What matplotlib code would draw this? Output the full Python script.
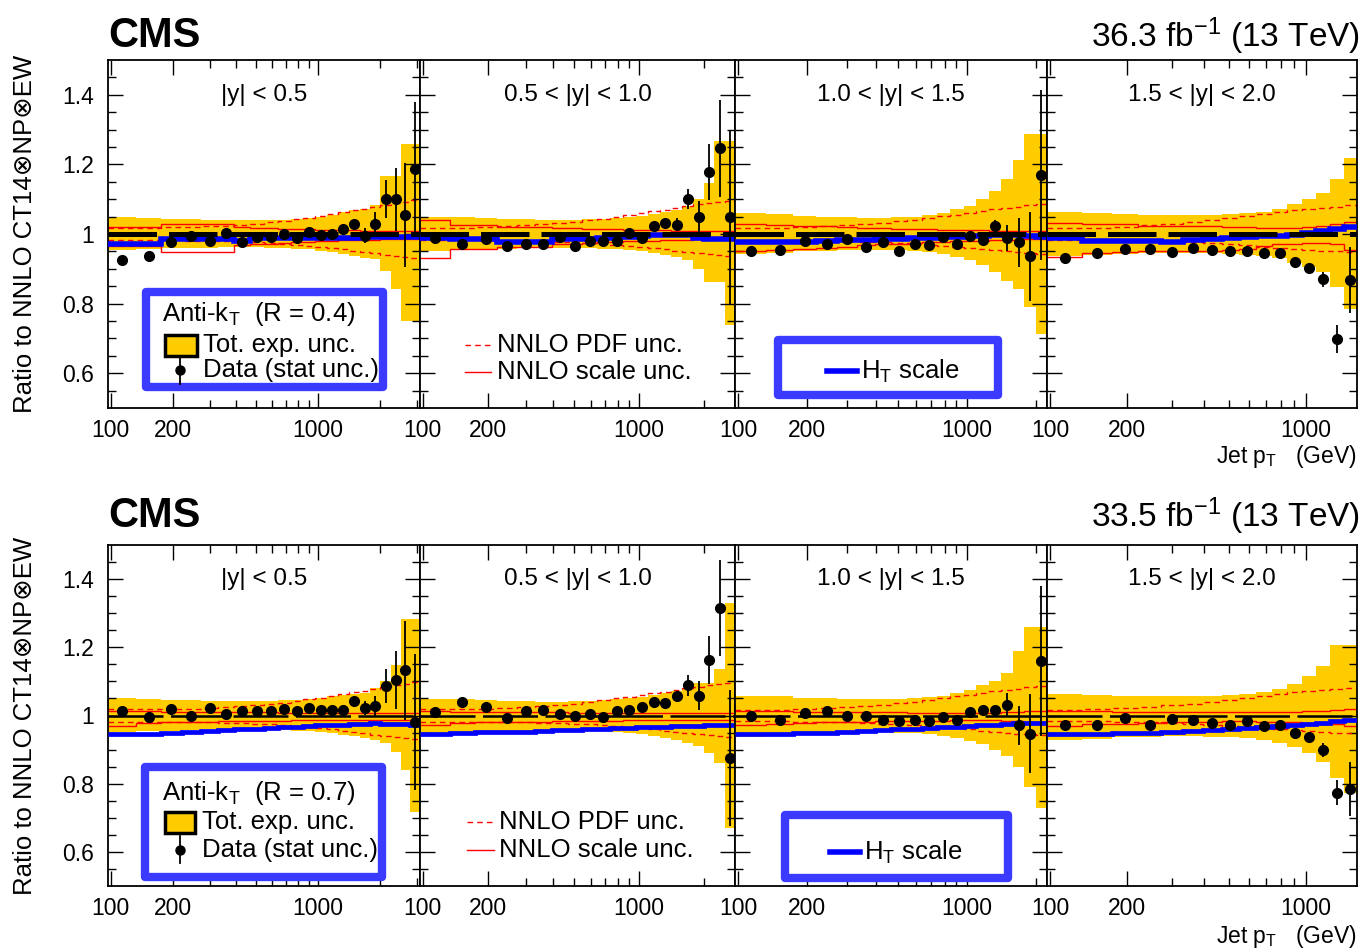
import numpy as np
import matplotlib
matplotlib.use('Agg')
import matplotlib.pyplot as plt
from matplotlib.patches import Rectangle
from matplotlib.lines import Line2D
from matplotlib.ticker import FixedLocator, FixedFormatter, NullFormatter

plt.rcParams['font.family'] = ['Liberation Sans', 'DejaVu Sans']
plt.rcParams['mathtext.fontset'] = 'custom'
plt.rcParams['mathtext.rm'] = 'Liberation Sans'
plt.rcParams['mathtext.it'] = 'Liberation Sans:italic'
plt.rcParams['mathtext.bf'] = 'Liberation Sans:bold'

# ---- binning (GeV) ----
edges = [97, 133, 174, 220, 272, 330, 395, 468, 548, 638, 737, 846, 967, 1101,
         1248, 1410, 1588, 1784, 2000, 2238, 2500, 2787, 3103]
nbins = [22, 21, 19, 16]
ylabels = ['|y| < 0.5', '0.5 < |y| < 1.0', '1.0 < |y| < 1.5', '1.5 < |y| < 2.0']

# ---- R = 0.4 (top row) ----
top_data = [
    [0.924, 0.936, 0.978, 0.995, 0.979, 1.002, 0.978, 0.990, 0.990, 1.000, 0.989,
     1.007, 0.997, 1.000, 1.014, 1.029, 0.995, 1.029, 1.100, 1.100, 1.054, 1.188],
    [0.989, 0.970, 0.986, 0.965, 0.971, 0.970, 0.990, 0.965, 0.981, 0.981, 0.981,
     1.003, 0.989, 1.024, 1.031, 1.027, 1.100, 1.048, 1.179, 1.246, 1.048],
    [0.950, 0.954, 0.981, 0.971, 0.986, 0.964, 0.976, 0.950, 0.971, 0.969, 0.990,
     0.970, 0.995, 0.984, 1.022, 0.989, 0.976, 0.936, 1.170],
    [0.931, 0.945, 0.957, 0.957, 0.948, 0.960, 0.955, 0.952, 0.952, 0.945, 0.945,
     0.919, 0.902, 0.870, 0.698, 0.867]]
top_stat = [
    [0.002, 0.002, 0.002, 0.002, 0.002, 0.002, 0.002, 0.002, 0.002, 0.002, 0.003,
     0.004, 0.005, 0.006, 0.008, 0.012, 0.022, 0.033, 0.055, 0.090, 0.150, 0.190],
    [0.002, 0.002, 0.002, 0.002, 0.002, 0.002, 0.002, 0.002, 0.002, 0.002, 0.003,
     0.004, 0.006, 0.008, 0.014, 0.018, 0.028, 0.048, 0.080, 0.140, 0.250],
    [0.002, 0.002, 0.002, 0.002, 0.002, 0.002, 0.002, 0.002, 0.002, 0.003, 0.004,
     0.006, 0.008, 0.012, 0.018, 0.038, 0.070, 0.128, 0.245],
    [0.002, 0.002, 0.002, 0.002, 0.002, 0.002, 0.002, 0.002, 0.003, 0.004, 0.005,
     0.007, 0.010, 0.021, 0.040, 0.095]]
top_exp_up = [
    [0.048, 0.046, 0.043, 0.042, 0.041, 0.040, 0.040, 0.039, 0.040, 0.041, 0.043,
     0.046, 0.050, 0.055, 0.062, 0.070, 0.072, 0.082, 0.167, 0.167, 0.260, 0.260],
    [0.050, 0.048, 0.045, 0.043, 0.042, 0.041, 0.041, 0.041, 0.042, 0.043, 0.045,
     0.048, 0.052, 0.057, 0.063, 0.070, 0.081, 0.100, 0.146, 0.267, 0.267],
    [0.059, 0.057, 0.052, 0.050, 0.048, 0.047, 0.047, 0.048, 0.050, 0.054, 0.060,
     0.071, 0.081, 0.100, 0.124, 0.157, 0.214, 0.286, 0.286],
    [0.063, 0.060, 0.058, 0.056, 0.056, 0.056, 0.056, 0.058, 0.060, 0.064, 0.071,
     0.086, 0.100, 0.119, 0.157, 0.219]]
top_exp_dn = [
    [0.046, 0.044, 0.041, 0.040, 0.039, 0.038, 0.038, 0.038, 0.039, 0.040, 0.042,
     0.044, 0.048, 0.052, 0.058, 0.064, 0.068, 0.072, 0.105, 0.157, 0.250, 0.250],
    [0.048, 0.046, 0.044, 0.042, 0.041, 0.040, 0.040, 0.040, 0.041, 0.042, 0.044,
     0.047, 0.050, 0.055, 0.060, 0.066, 0.075, 0.100, 0.138, 0.138, 0.262],
    [0.057, 0.055, 0.050, 0.048, 0.046, 0.045, 0.045, 0.046, 0.048, 0.052, 0.057,
     0.065, 0.075, 0.090, 0.110, 0.135, 0.157, 0.210, 0.286],
    [0.064, 0.061, 0.058, 0.056, 0.056, 0.056, 0.056, 0.057, 0.059, 0.063, 0.069,
     0.082, 0.095, 0.110, 0.152, 0.216]]
top_scale_up = [
    [0.020, 0.020, 0.030, 0.030, 0.030, 0.030, 0.020, 0.018, 0.016, 0.015, 0.014,
     0.013, 0.012, 0.012, 0.011, 0.011, 0.010, 0.010, 0.010, 0.010, 0.010, 0.010],
    [0.040, 0.027, 0.027, 0.020, 0.020, 0.020, 0.018, 0.016, 0.015, 0.014, 0.013,
     0.012, 0.012, 0.011, 0.011, 0.010, 0.010, 0.010, 0.010, 0.010, 0.010],
    [0.028, 0.026, 0.024, 0.022, 0.020, 0.018, 0.016, 0.015, 0.014, 0.013, 0.012,
     0.012, 0.011, 0.011, 0.010, 0.010, 0.010, 0.010, 0.010],
    [0.033, 0.030, 0.028, 0.024, 0.024, 0.022, 0.022, 0.020, 0.019, 0.018, 0.018,
     0.018, 0.020, 0.024, 0.030, 0.034]]
top_scale_dn = [
    [0.035, 0.035, 0.052, 0.052, 0.052, 0.052, 0.032, 0.030, 0.028, 0.026, 0.024,
     0.022, 0.020, 0.019, 0.018, 0.017, 0.016, 0.016, 0.015, 0.015, 0.014, 0.014],
    [0.070, 0.043, 0.042, 0.036, 0.036, 0.036, 0.030, 0.028, 0.026, 0.024, 0.022,
     0.021, 0.020, 0.019, 0.018, 0.017, 0.016, 0.015, 0.015, 0.014, 0.014],
    [0.048, 0.046, 0.044, 0.040, 0.036, 0.032, 0.030, 0.028, 0.026, 0.024, 0.022,
     0.021, 0.020, 0.019, 0.018, 0.017, 0.016, 0.015, 0.015],
    [0.067, 0.055, 0.052, 0.050, 0.050, 0.048, 0.048, 0.045, 0.042, 0.035, 0.030,
     0.028, 0.027, 0.026, 0.030, 0.045]]
top_ht = [
    [0.972, 0.972, 0.987, 0.987, 0.987, 0.987, 0.980, 0.988, 0.988, 0.988, 0.988,
     0.988, 0.989, 0.989, 0.989, 0.989, 0.990, 0.990, 0.990, 0.990, 0.990, 0.990],
    [0.988, 0.985, 0.985, 0.978, 0.978, 0.978, 0.985, 0.985, 0.986, 0.988, 0.990,
     0.992, 0.995, 0.996, 0.997, 0.997, 0.997, 0.988, 0.985, 0.985, 0.985],
    [0.976, 0.976, 0.978, 0.980, 0.982, 0.984, 0.986, 0.987, 0.988, 0.989, 0.990,
     0.992, 0.993, 0.994, 0.996, 0.997, 0.996, 0.994, 0.992],
    [0.988, 0.981, 0.980, 0.979, 0.977, 0.984, 0.986, 0.989, 0.991, 0.993, 0.995,
     0.998, 1.002, 1.008, 1.013, 1.019]]

# ---- R = 0.7 (bottom row) ----
bot_data = [
    [1.012, 0.997, 1.019, 1.000, 1.022, 1.005, 1.012, 1.012, 1.012, 1.019, 1.014,
     1.021, 1.017, 1.017, 1.017, 1.043, 1.022, 1.028, 1.087, 1.103, 1.132, 0.981],
    [1.010, 1.041, 1.024, 0.993, 1.012, 1.017, 1.005, 0.998, 1.005, 0.997, 1.012,
     1.017, 1.024, 1.040, 1.037, 1.056, 1.088, 1.058, 1.163, 1.315, 0.875],
    [1.000, 0.986, 1.007, 1.014, 1.000, 0.998, 0.986, 0.983, 0.988, 0.984, 0.997,
     0.988, 1.010, 1.016, 1.017, 1.031, 0.971, 0.947, 1.159],
    [0.971, 0.973, 0.992, 0.973, 0.990, 0.986, 0.979, 0.973, 0.983, 0.968, 0.973,
     0.949, 0.938, 0.899, 0.774, 0.784]]
bot_stat = [
    [0.002, 0.002, 0.002, 0.002, 0.002, 0.002, 0.002, 0.002, 0.002, 0.002, 0.003,
     0.003, 0.004, 0.005, 0.007, 0.010, 0.020, 0.030, 0.050, 0.085, 0.145, 0.200],
    [0.002, 0.002, 0.002, 0.002, 0.002, 0.002, 0.002, 0.002, 0.002, 0.003, 0.003,
     0.004, 0.005, 0.007, 0.010, 0.015, 0.030, 0.043, 0.070, 0.140, 0.200],
    [0.002, 0.002, 0.002, 0.002, 0.002, 0.002, 0.002, 0.002, 0.003, 0.003, 0.004,
     0.005, 0.007, 0.010, 0.015, 0.035, 0.058, 0.117, 0.220],
    [0.002, 0.002, 0.002, 0.002, 0.002, 0.002, 0.002, 0.002, 0.003, 0.003, 0.004,
     0.006, 0.008, 0.020, 0.037, 0.080]]
bot_exp_up = [
    [0.051, 0.049, 0.046, 0.044, 0.043, 0.042, 0.042, 0.042, 0.043, 0.044, 0.046,
     0.049, 0.052, 0.056, 0.060, 0.063, 0.065, 0.082, 0.100, 0.149, 0.284, 0.284],
    [0.048, 0.047, 0.045, 0.043, 0.042, 0.041, 0.041, 0.042, 0.043, 0.045, 0.048,
     0.051, 0.055, 0.060, 0.066, 0.073, 0.082, 0.096, 0.096, 0.135, 0.330],
    [0.058, 0.056, 0.052, 0.050, 0.048, 0.047, 0.047, 0.048, 0.050, 0.053, 0.058,
     0.065, 0.075, 0.088, 0.100, 0.125, 0.190, 0.260, 0.260],
    [0.062, 0.060, 0.058, 0.057, 0.057, 0.057, 0.058, 0.060, 0.063, 0.068, 0.078,
     0.091, 0.115, 0.144, 0.207, 0.207]]
bot_exp_dn = [
    [0.048, 0.046, 0.044, 0.042, 0.041, 0.040, 0.040, 0.040, 0.041, 0.042, 0.044,
     0.046, 0.049, 0.052, 0.056, 0.060, 0.065, 0.072, 0.082, 0.106, 0.159, 0.284],
    [0.053, 0.050, 0.047, 0.045, 0.044, 0.043, 0.043, 0.043, 0.044, 0.046, 0.048,
     0.051, 0.055, 0.060, 0.066, 0.073, 0.080, 0.090, 0.110, 0.140, 0.330],
    [0.062, 0.059, 0.055, 0.052, 0.050, 0.049, 0.049, 0.050, 0.052, 0.055, 0.060,
     0.066, 0.075, 0.085, 0.100, 0.120, 0.150, 0.210, 0.270],
    [0.072, 0.068, 0.064, 0.062, 0.061, 0.061, 0.062, 0.064, 0.067, 0.072, 0.080,
     0.092, 0.110, 0.135, 0.183, 0.226]]
bot_scale_up = [
    [0.012, 0.012, 0.010, 0.010, 0.010, 0.010, 0.009, 0.009, 0.009, 0.008, 0.008,
     0.008, 0.008, 0.008, 0.008, 0.008, 0.008, 0.008, 0.008, 0.008, 0.008, 0.008],
    [0.012, 0.010, 0.010, 0.010, 0.009, 0.009, 0.009, 0.008, 0.008, 0.008, 0.008,
     0.008, 0.008, 0.008, 0.008, 0.008, 0.008, 0.008, 0.008, 0.008, 0.008],
    [0.012, 0.012, 0.011, 0.010, 0.010, 0.009, 0.009, 0.009, 0.008, 0.008, 0.008,
     0.008, 0.008, 0.008, 0.008, 0.009, 0.010, 0.012, 0.014],
    [0.012, 0.012, 0.011, 0.010, 0.010, 0.009, 0.009, 0.009, 0.009, 0.009, 0.010,
     0.011, 0.012, 0.013, 0.015, 0.018]]
bot_scale_dn = [
    [0.030, 0.022, 0.020, 0.018, 0.018, 0.017, 0.016, 0.016, 0.015, 0.015, 0.014,
     0.014, 0.013, 0.013, 0.013, 0.012, 0.012, 0.012, 0.012, 0.012, 0.012, 0.012],
    [0.028, 0.022, 0.020, 0.020, 0.019, 0.018, 0.017, 0.016, 0.016, 0.015, 0.015,
     0.014, 0.014, 0.013, 0.013, 0.013, 0.012, 0.012, 0.012, 0.012, 0.012],
    [0.028, 0.024, 0.022, 0.020, 0.019, 0.018, 0.017, 0.016, 0.016, 0.015, 0.015,
     0.014, 0.014, 0.014, 0.014, 0.015, 0.016, 0.018, 0.020],
    [0.030, 0.026, 0.024, 0.022, 0.020, 0.019, 0.018, 0.017, 0.017, 0.018, 0.019,
     0.020, 0.022, 0.024, 0.026, 0.030]]
bot_ht = [
    [0.946, 0.946, 0.950, 0.952, 0.955, 0.957, 0.959, 0.961, 0.963, 0.965, 0.967,
     0.969, 0.971, 0.972, 0.973, 0.975, 0.976, 0.977, 0.976, 0.975, 0.974, 0.973],
    [0.947, 0.950, 0.951, 0.952, 0.953, 0.955, 0.957, 0.958, 0.959, 0.960, 0.962,
     0.963, 0.965, 0.966, 0.967, 0.968, 0.969, 0.970, 0.971, 0.971, 0.971],
    [0.945, 0.946, 0.948, 0.950, 0.953, 0.955, 0.957, 0.959, 0.961, 0.963, 0.965,
     0.967, 0.969, 0.971, 0.973, 0.975, 0.977, 0.978, 0.977],
    [0.946, 0.946, 0.948, 0.950, 0.953, 0.955, 0.957, 0.959, 0.962, 0.965, 0.968,
     0.971, 0.975, 0.979, 0.984, 0.988]]

# ---- NNLO PDF uncertainty (same for both rows) ----
pdf_up = [
    [0.018, 0.018, 0.019, 0.020, 0.022, 0.024, 0.027, 0.030, 0.034, 0.038, 0.042,
     0.047, 0.052, 0.057, 0.062, 0.068, 0.073, 0.078, 0.083, 0.088, 0.093, 0.098],
    [0.018, 0.018, 0.020, 0.022, 0.025, 0.028, 0.031, 0.035, 0.039, 0.044, 0.050,
     0.055, 0.060, 0.065, 0.070, 0.075, 0.080, 0.085, 0.089, 0.092, 0.095],
    [0.016, 0.017, 0.019, 0.022, 0.025, 0.028, 0.032, 0.036, 0.041, 0.046, 0.051,
     0.056, 0.061, 0.066, 0.071, 0.075, 0.079, 0.083, 0.086],
    [0.016, 0.018, 0.021, 0.025, 0.030, 0.035, 0.040, 0.046, 0.052, 0.058, 0.063,
     0.068, 0.072, 0.076, 0.079, 0.082]]
pdf_dn = [
    [0.018, 0.018, 0.018, 0.019, 0.020, 0.021, 0.022, 0.024, 0.026, 0.028, 0.031,
     0.034, 0.037, 0.040, 0.044, 0.048, 0.052, 0.056, 0.059, 0.062, 0.065, 0.068],
    [0.018, 0.018, 0.018, 0.019, 0.020, 0.021, 0.022, 0.024, 0.026, 0.028, 0.031,
     0.034, 0.037, 0.040, 0.044, 0.048, 0.052, 0.055, 0.058, 0.060, 0.062],
    [0.016, 0.017, 0.018, 0.019, 0.020, 0.022, 0.024, 0.026, 0.029, 0.032, 0.035,
     0.038, 0.041, 0.044, 0.047, 0.050, 0.053, 0.055, 0.057],
    [0.016, 0.017, 0.018, 0.020, 0.022, 0.024, 0.027, 0.030, 0.033, 0.037, 0.040,
     0.043, 0.046, 0.048, 0.050, 0.052]]

YELLOW = '#ffcc00'
BOXBLUE = '#3b3bff'
W, H = 1367, 952
panel_x = [108, 420, 735, 1047, 1357]
LEGFS = 18.5

fig = plt.figure(figsize=(W / 100, H / 100), dpi=100)


def draw_panel(ax, i, data, stat, eup, edn, sup, sdn, ht, top):
    n = nbins[i]
    e = np.array(edges[:n + 1], dtype=float)
    c = np.sqrt(e[:-1] * e[1:])
    d = np.array(data)
    ax.stairs(1 + np.array(eup), e, baseline=1 - np.array(edn), fill=True,
              color=YELLOW, lw=0, zorder=1)
    ax.stairs(1 + np.array(pdf_up[i]), e, baseline=None, color='red', lw=1.0,
              ls=(0, (4, 3)), zorder=2)
    ax.stairs(1 - np.array(pdf_dn[i]), e, baseline=None, color='red', lw=1.0,
              ls=(0, (4, 3)), zorder=2)
    ax.stairs(1 + np.array(sup), e, baseline=None, color='red', lw=1.0, zorder=2)
    ax.stairs(1 - np.array(sdn), e, baseline=None, color='red', lw=1.0, zorder=2)
    ax.stairs(np.array(ht), e, baseline=None, color='blue',
              lw=4.0 if top else 3.4, zorder=3)
    if top:
        ax.axhline(1.0, color='k', lw=3.6, ls=(0, (9.7, 2.4)), zorder=3.5)
    else:
        ax.axhline(1.0, color='k', lw=1.8, ls=(0, (22, 3)), zorder=3.5)
    ax.errorbar(c, d, yerr=stat, fmt='o', color='k', ms=7, elinewidth=1.3,
                capsize=0, zorder=5)

    ax.set_xscale('log')
    ax.set_xlim(97, e[-1])
    ax.set_ylim(0.5, 1.5)
    ax.xaxis.set_major_locator(FixedLocator([100, 200, 1000]))
    ax.xaxis.set_major_formatter(FixedFormatter(['100', '200', '1000']))
    minors = [m for m in [300, 400, 500, 600, 700, 800, 900, 2000, 3000] if m < e[-1]]
    ax.xaxis.set_minor_locator(FixedLocator(minors))
    ax.xaxis.set_minor_formatter(NullFormatter())
    ax.yaxis.set_major_locator(FixedLocator([0.6, 0.8, 1.0, 1.2, 1.4]))
    ax.yaxis.set_major_formatter(FixedFormatter(['0.6', '0.8', '1', '1.2', '1.4']))
    ax.yaxis.set_minor_locator(FixedLocator(np.arange(0.55, 1.5, 0.05)))
    ax.tick_params(which='both', direction='in', top=True, right=True,
                   labelsize=16.5, width=1.0)
    ax.tick_params(which='major', length=11, pad=8)
    ax.tick_params(which='minor', length=6)
    ax.tick_params(axis='y', labelleft=(i == 0), pad=10)
    for s in ax.spines.values():
        s.set_linewidth(1.3)
    ax.text(0.5, 0.9, ylabels[i], transform=ax.transAxes, ha='center',
            va='center', fontsize=17.5)


def box(ax, x0, y0, x1, y1):
    ax.add_patch(Rectangle((x0, y0), x1 - x0, y1 - y0, transform=ax.transAxes,
                           facecolor='white', edgecolor=BOXBLUE, lw=6,
                           joinstyle='round', zorder=6))


def legend_main(ax, label, bx, by, ty, tx, rect, mx):
    box(ax, bx[0], by[0], bx[1], by[1])
    ax.text(rect[0] - 0.01, ty[0], label, transform=ax.transAxes, fontsize=LEGFS,
            va='center', ha='left', zorder=7)
    ax.add_patch(Rectangle((rect[0], rect[2]), rect[1] - rect[0], rect[3] - rect[2],
                           transform=ax.transAxes, facecolor=YELLOW,
                           edgecolor='k', lw=2.5, zorder=7))
    ax.text(tx, ty[1], 'Tot. exp. unc.', transform=ax.transAxes, fontsize=LEGFS,
            va='center', ha='left', zorder=7)
    ax.plot([mx], [ty[2]], 'o', color='k', ms=6.5, transform=ax.transAxes, zorder=7)
    ax.add_line(Line2D([mx, mx], [ty[2] - 0.04, ty[2] + 0.04], color='k', lw=1.3,
                       transform=ax.transAxes, zorder=7))
    ax.text(tx, ty[2], 'Data (stat unc.)', transform=ax.transAxes, fontsize=LEGFS,
            va='center', ha='left', zorder=7)


def legend_nnlo(ax, lx, tx, ty):
    ax.add_line(Line2D(lx, [ty[0], ty[0]], color='red', lw=1.0, ls=(0, (4, 3)),
                       transform=ax.transAxes, zorder=7))
    ax.add_line(Line2D(lx, [ty[1], ty[1]], color='red', lw=1.0,
                       transform=ax.transAxes, zorder=7))
    ax.text(tx, ty[0], 'NNLO PDF unc.', transform=ax.transAxes, fontsize=LEGFS,
            va='center', ha='left', zorder=7)
    ax.text(tx, ty[1], 'NNLO scale unc.', transform=ax.transAxes, fontsize=LEGFS,
            va='center', ha='left', zorder=7)


def legend_ht(ax, bx, by, lx, tx, ty):
    box(ax, bx[0], by[0], bx[1], by[1])
    ax.add_line(Line2D(lx, [ty, ty], color='blue', lw=4, transform=ax.transAxes,
                       zorder=7))
    ax.text(tx, ty, r'H$_{\mathrm{T}}$ scale', transform=ax.transAxes, fontsize=LEGFS,
            va='center', ha='left', zorder=7)


rows = [
    dict(y0=60, y1=408, data=top_data, stat=top_stat, eup=top_exp_up,
         edn=top_exp_dn, sup=top_scale_up, sdn=top_scale_dn, ht=top_ht, top=True,
         lumi=r'36.3 fb$^{-1}$ (13 TeV)', base=47, xl=456, R='0.4'),
    dict(y0=545, y1=886, data=bot_data, stat=bot_stat, eup=bot_exp_up,
         edn=bot_exp_dn, sup=bot_scale_up, sdn=bot_scale_dn, ht=bot_ht, top=False,
         lumi=r'33.5 fb$^{-1}$ (13 TeV)', base=527, xl=936, R='0.7'),
]

for r in rows:
    axes = []
    for i in range(4):
        x0, x1 = panel_x[i], panel_x[i + 1]
        ax = fig.add_axes([x0 / W, 1 - r['y1'] / H, (x1 - x0) / W,
                           (r['y1'] - r['y0']) / H])
        draw_panel(ax, i, r['data'][i], r['stat'][i], r['eup'][i], r['edn'][i],
                   r['sup'][i], r['sdn'][i], r['ht'][i], r['top'])
        axes.append(ax)

    label = r'Anti-k$_{\mathrm{T}}$  (R = ' + r['R'] + ')'
    if r['top']:
        legend_main(axes[0], label, (0.122, 0.881), (0.060, 0.333),
                    (0.270, 0.181, 0.109), 0.306, (0.183, 0.285, 0.150, 0.210), 0.231)
        legend_nnlo(axes[1], [0.143, 0.225], 0.245, (0.181, 0.103))
        legend_ht(axes[2], (0.138, 0.843), (0.037, 0.195), [0.295, 0.391],
                  0.405, 0.105)
    else:
        legend_main(axes[0], label, (0.118, 0.878), (0.026, 0.349),
                    (0.273, 0.188, 0.106), 0.300, (0.183, 0.280, 0.155, 0.217), 0.231)
        legend_nnlo(axes[1], [0.149, 0.235], 0.250, (0.188, 0.106))
        legend_ht(axes[2], (0.160, 0.875), (0.023, 0.208), [0.304, 0.401],
                  0.415, 0.100)

    fig.text(108 / W, 1 - r['base'] / H, 'CMS', fontsize=30, fontweight='bold',
             ha='left', va='baseline')
    fig.text(1360 / W, 1 - r['base'] / H, r['lumi'], fontsize=24,
             ha='right', va='baseline')
    fig.text(1357 / W, 1 - r['xl'] / H, r'Jet p$_{\mathrm{T}}$   (GeV)',
             fontsize=16.5, ha='right', va='center')
    fig.text(25 / W, 1 - (r['y0'] + r['y1']) / 2 / H,
             'Ratio to NNLO CT14\u2297NP\u2297EW', fontsize=18.5, rotation=90,
             ha='center', va='center')

fig.savefig('out.png', dpi=100)
